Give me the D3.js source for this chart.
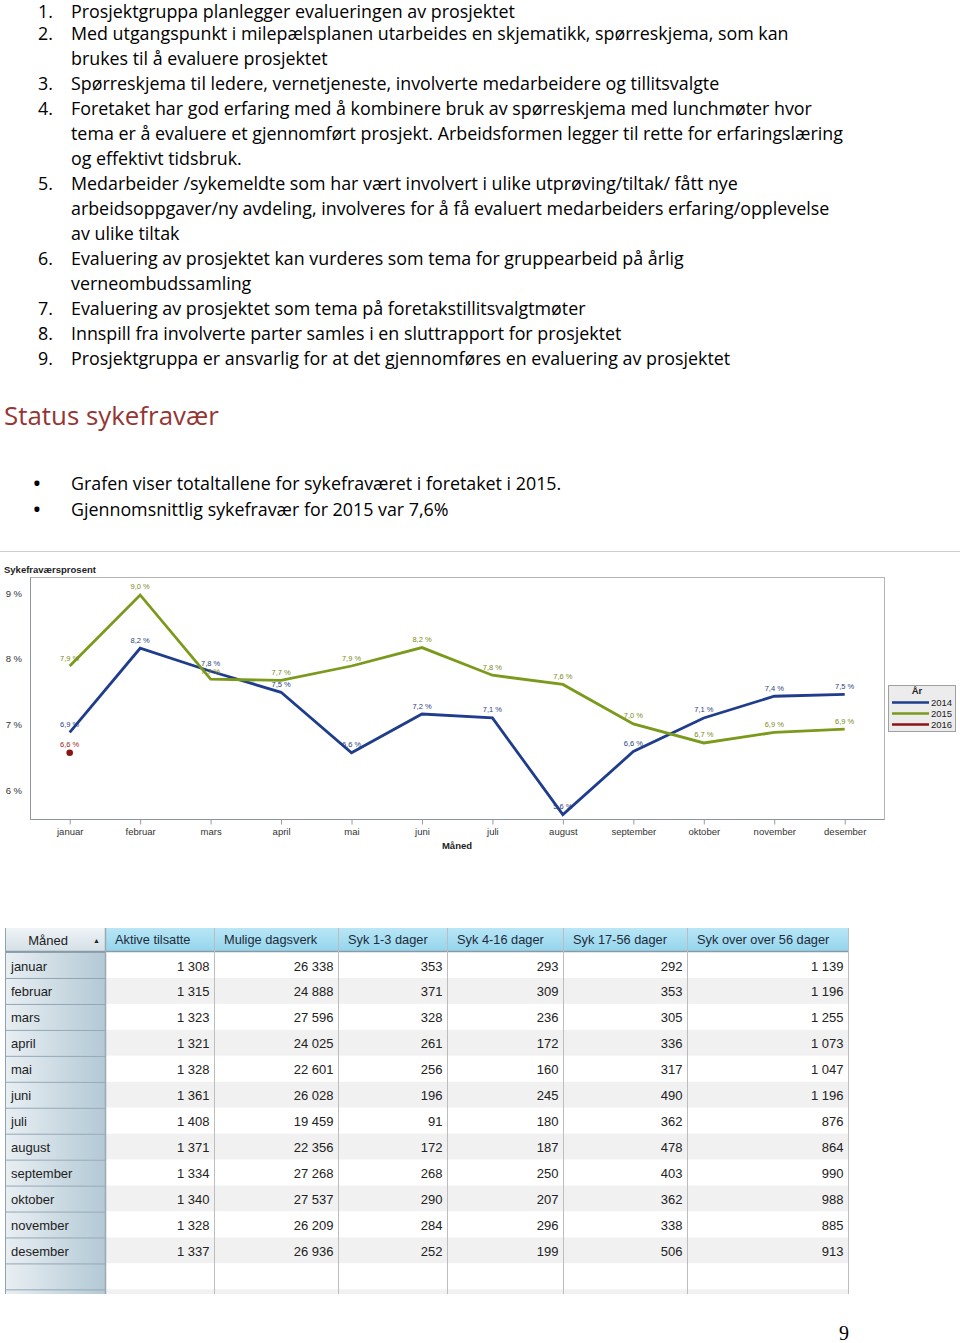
<!DOCTYPE html>
<html><head><meta charset="utf-8">
<script src="https://cdn.jsdelivr.net/npm/d3@7"></script>
<style>
html,body{margin:0;padding:0;background:#fff;}
svg{display:block;}
</style></head>
<body>
<script>
// ---------- DATA ----------
const months = ["januar","februar","mars","april","mai","juni","juli","august","september","oktober","november","desember"];
const years = ["2014","2015","2016"];
const pct2014 = [6.88, 8.16, 7.81, 7.49, 6.57, 7.16, 7.10, 5.63, 6.59, 7.10, 7.43, 7.46];
const pct2015 = [7.89, 8.97, 7.69, 7.67, 7.89, 8.17, 7.75, 7.61, 7.01, 6.72, 6.88, 6.93];
const pct2016 = [6.57];
const yTicks = [6, 7, 8, 9];

const tableHeaders = ["Aktive tilsatte","Mulige dagsverk","Syk 1-3 dager","Syk 4-16 dager","Syk 17-56 dager","Syk over over 56 dager"];
const aktive   = [1308,1315,1323,1321,1328,1361,1408,1371,1334,1340,1328,1337];
const mulige   = [26338,24888,27596,24025,22601,26028,19459,22356,27268,27537,26209,26936];
const syk1_3   = [353,371,328,261,256,196,91,172,268,290,284,252];
const syk4_16  = [293,309,236,172,160,245,180,187,250,207,296,199];
const syk17_56 = [292,353,305,336,317,490,362,478,403,362,338,506];
const syk56    = [1139,1196,1255,1073,1047,1196,876,864,990,988,885,913];

const listItems = [
  ["1.", ["Prosjektgruppa planlegger evalueringen av prosjektet"]],
  ["2.", ["Med utgangspunkt i milepælsplanen utarbeides en skjematikk, spørreskjema, som kan","brukes til å evaluere prosjektet"]],
  ["3.", ["Spørreskjema til ledere, vernetjeneste, involverte medarbeidere og tillitsvalgte"]],
  ["4.", ["Foretaket har god erfaring med å kombinere bruk av spørreskjema med lunchmøter hvor","tema er å evaluere et gjennomført prosjekt. Arbeidsformen legger til rette for erfaringslæring","og effektivt tidsbruk."]],
  ["5.", ["Medarbeider /sykemeldte som har vært involvert i ulike utprøving/tiltak/ fått nye","arbeidsoppgaver/ny avdeling, involveres for å få evaluert medarbeiders erfaring/opplevelse","av ulike tiltak"]],
  ["6.", ["Evaluering av prosjektet kan vurderes som tema for gruppearbeid på årlig","verneombudssamling"]],
  ["7.", ["Evaluering av prosjektet som tema på foretakstillitsvalgtmøter"]],
  ["8.", ["Innspill fra involverte parter samles i en sluttrapport for prosjektet"]],
  ["9.", ["Prosjektgruppa er ansvarlig for at det gjennomføres en evaluering av prosjektet"]]
];
const heading = "Status sykefravær";
const bullets = ["Grafen viser totaltallene for sykefraværet i foretaket i 2015.","Gjennomsnittlig sykefravær for 2015 var 7,6%"];

// ---------- PAGE ----------
const W = 960, H = 1343;
const svg = d3.select("body").append("svg").attr("width", W).attr("height", H);

const bodyFont = "'Open Sans', sans-serif";
const chartFont = "'Liberation Sans', Arial, sans-serif";

function fitSize(txt, family, target, weight) {
  const t = svg.append("text").attr("font-family", family).attr("font-size", 20)
    .attr("font-weight", weight || "normal").text(txt);
  const w = t.node().getComputedTextLength();
  t.remove();
  return 20 * target / w;
}
const bodySize = fitSize(listItems[1][1][0], bodyFont, 718);

const doc = svg.append("g").attr("fill", "#000").attr("font-family", bodyFont).attr("font-size", bodySize);
let lineIdx = 0;
const baseOf = k => (k === 0 ? 17.5 : 15 + k * 25);
listItems.forEach(([num, lines]) => {
  doc.append("text").attr("x", 38).attr("y", baseOf(lineIdx)).text(num);
  lines.forEach((l, j) => {
    doc.append("text").attr("x", 71).attr("y", baseOf(lineIdx + j)).text(l);
  });
  lineIdx += lines.length;
});

const headSize = fitSize(heading, bodyFont, 215);
svg.append("text").attr("x", 4).attr("y", 425).attr("font-family", bodyFont)
  .attr("font-size", headSize).attr("fill", "#943634").text(heading);

bullets.forEach((b, i) => {
  const y = 490 + i * 25.5;
  svg.append("text").attr("x", 37).attr("y", y).attr("text-anchor", "middle")
    .attr("font-family", bodyFont).attr("font-size", 18).attr("font-weight", "bold").text("•");
  svg.append("text").attr("x", 71).attr("y", y).attr("font-family", bodyFont).attr("font-size", bodySize).text(b);
});

svg.append("line").attr("x1", 0).attr("x2", 960).attr("y1", 551.5).attr("y2", 551.5)
  .attr("stroke", "#cfcfcf").attr("stroke-width", 1);

// ---------- CHART ----------
const frame = {l: 30, t: 577, r: 884, b: 819};
const x = d3.scalePoint().domain(months).range([69.7, 844.7]);
const y = d3.scaleLinear().domain([6, 9]).range([790.3, 593]);
const colors = {"2014": "#1f3d8c", "2015": "#7b9a1c", "2016": "#8b1414"};
const labelColors = {"2014": "#2b3f80", "2015": "#7c8a22", "2016": "#9a2020"};
const fmt = v => d3.format(".1f")(v).replace(".", ",") + " %";

const chart = svg.append("g").attr("font-family", chartFont);

chart.append("text").attr("x", 4).attr("y", 573).attr("font-size", 9.5).attr("font-weight", "bold")
  .attr("fill", "#222").text("Sykefraværsprosent");

chart.append("rect").attr("x", frame.l + 0.5).attr("y", frame.t + 0.5)
  .attr("width", frame.r - frame.l).attr("height", frame.b - frame.t)
  .attr("fill", "#fff").attr("stroke", "#b4b4b4");
chart.append("path").attr("d", `M${frame.l + 0.5},${frame.t + 0.5}V${frame.b + 0.5}H${frame.r + 0.5}`)
  .attr("fill", "none").attr("stroke", "#8f94a3");

const xAxis = chart.append("g").attr("transform", `translate(0,${frame.b + 0.5})`)
  .call(d3.axisBottom(x).tickSize(5).tickPadding(3.5));
xAxis.select(".domain").remove();
xAxis.selectAll(".tick line").attr("stroke", "#999");
xAxis.selectAll(".tick text").attr("font-size", 9.5).attr("font-family", chartFont).attr("fill", "#333");

const yAxis = chart.append("g").attr("transform", `translate(${frame.l},0)`)
  .call(d3.axisLeft(y).tickValues(yTicks).tickSize(0).tickPadding(8).tickFormat(d => d + " %"));
yAxis.select(".domain").remove();
yAxis.selectAll(".tick text").attr("font-size", 9.5).attr("font-family", chartFont).attr("fill", "#333");

chart.append("text").attr("x", 457).attr("y", 849).attr("text-anchor", "middle")
  .attr("font-size", 9.5).attr("font-weight", "bold").attr("fill", "#222").text("Måned");

const series = [
  {year: "2014", values: pct2014},
  {year: "2015", values: pct2015},
  {year: "2016", values: pct2016}
];
const line = d3.line().x((d, i) => x(months[i])).y(d => y(d));
series.forEach(s => {
  if (s.values.length > 1) {
    chart.append("path").datum(s.values).attr("d", line).attr("fill", "none")
      .attr("stroke", colors[s.year]).attr("stroke-width", 2.8).attr("stroke-linejoin", "miter");
  } else {
    chart.selectAll(null).data(s.values).join("circle")
      .attr("cx", (d, i) => x(months[i])).attr("cy", d => y(d)).attr("r", 3.3)
      .attr("fill", colors[s.year]);
  }
});
series.forEach(s => {
  chart.selectAll(null).data(s.values).join("text")
    .attr("x", (d, i) => x(months[i])).attr("y", d => y(d) - 5.5)
    .attr("text-anchor", "middle").attr("font-size", 7.5)
    .attr("fill", labelColors[s.year]).text(d => fmt(d));
});

// legend
const lg = chart.append("g");
lg.append("rect").attr("x", 888.5).attr("y", 685.5).attr("width", 67).attr("height", 46)
  .attr("fill", "#ececec").attr("stroke", "#a0a0a0");
lg.append("text").attr("x", 917).attr("y", 694).attr("text-anchor", "middle").attr("font-size", 9.5)
  .attr("font-weight", "bold").attr("fill", "#222").text("År");
years.forEach((yr, i) => {
  const yy = 702.5 + i * 11;
  lg.append("line").attr("x1", 892).attr("x2", 929).attr("y1", yy).attr("y2", yy)
    .attr("stroke", colors[yr]).attr("stroke-width", 2.6);
  lg.append("text").attr("x", 931).attr("y", yy + 3.5).attr("font-size", 9.5).attr("fill", "#222").text(yr);
});

// ---------- TABLE ----------
const numFmt = d3.formatLocale({decimal: ",", thousands: " ", grouping: [3], currency: ["", ""]}).format(",d");
const colEdges = [5, 105, 214, 338, 447, 563, 687, 848];
const tblTop = 928, hdrBot = 952, rowH = 25.95, tblBot = 1294;
const colData = [aktive, mulige, syk1_3, syk4_16, syk17_56, syk56];

const defs = svg.append("defs");
const gHdr = defs.append("linearGradient").attr("id", "gHdr").attr("x1", 0).attr("x2", 0).attr("y1", 0).attr("y2", 1);
gHdr.append("stop").attr("offset", 0).attr("stop-color", "#b9e6f6");
gHdr.append("stop").attr("offset", 1).attr("stop-color", "#94d4ec");
const gCorner = defs.append("linearGradient").attr("id", "gCorner").attr("x1", 0).attr("x2", 0).attr("y1", 0).attr("y2", 1);
gCorner.append("stop").attr("offset", 0).attr("stop-color", "#eef3f6");
gCorner.append("stop").attr("offset", 1).attr("stop-color", "#d3dfe6");
const gRow = defs.append("linearGradient").attr("id", "gRow").attr("x1", 0).attr("x2", 1).attr("y1", 0).attr("y2", 0);
gRow.append("stop").attr("offset", 0).attr("stop-color", "#e9eff3");
gRow.append("stop").attr("offset", 1).attr("stop-color", "#b3c9d5");

const tbl = svg.append("g").attr("font-family", chartFont);
const nRows = Math.ceil((tblBot - hdrBot) / rowH);
d3.range(nRows).forEach(i => {
  const top = hdrBot + i * rowH;
  const h = Math.min(rowH, tblBot - top);
  tbl.append("rect").attr("x", colEdges[1]).attr("y", top).attr("width", colEdges[7] - colEdges[1])
    .attr("height", h).attr("fill", i % 2 === 0 ? "#ffffff" : "#f1f1f1");
  tbl.append("rect").attr("x", colEdges[0]).attr("y", top).attr("width", colEdges[1] - colEdges[0])
    .attr("height", h).attr("fill", "url(#gRow)");
  tbl.append("line").attr("x1", colEdges[0]).attr("x2", colEdges[1]).attr("y1", top + 0.5).attr("y2", top + 0.5)
    .attr("stroke", "#8fa4b2");
});
tbl.append("rect").attr("x", colEdges[0]).attr("y", tblTop).attr("width", colEdges[1] - colEdges[0])
  .attr("height", hdrBot - tblTop).attr("fill", "url(#gCorner)");
tbl.append("rect").attr("x", colEdges[1]).attr("y", tblTop).attr("width", colEdges[7] - colEdges[1])
  .attr("height", hdrBot - tblTop).attr("fill", "url(#gHdr)");
tbl.append("line").attr("x1", colEdges[0]).attr("x2", colEdges[7]).attr("y1", hdrBot - 0.5).attr("y2", hdrBot - 0.5)
  .attr("stroke", "#8c9aa3").attr("stroke-width", 1.5);
colEdges.forEach((cx, i) => {
  tbl.append("line").attr("x1", cx + 0.5).attr("x2", cx + 0.5).attr("y1", tblTop).attr("y2", tblBot)
    .attr("stroke", i === 0 ? "#8fa4b2" : (i === 1 ? "#9aa9b3" : "#bdbdbd")).attr("stroke-width", i === 1 ? 1.5 : 1);
});
tbl.append("text").attr("x", 48).attr("y", 944.5).attr("text-anchor", "middle").attr("font-size", 13)
  .attr("fill", "#222").text("Måned");
tbl.append("text").attr("x", 96.5).attr("y", 943).attr("text-anchor", "middle").attr("font-size", 7)
  .attr("fill", "#222").text("▲");
tableHeaders.forEach((h, j) => {
  tbl.append("text").attr("x", colEdges[j + 1] + 10).attr("y", 943.5).attr("font-size", 12.8)
    .attr("fill", "#1d2c3a").text(h);
});
months.forEach((m, i) => {
  const base = hdrBot + i * rowH + 18.5;
  tbl.append("text").attr("x", 11).attr("y", base).attr("font-size", 13).attr("fill", "#222").text(m);
  colData.forEach((col, j) => {
    tbl.append("text").attr("x", colEdges[j + 2] - 4.5).attr("y", base).attr("text-anchor", "end")
      .attr("font-size", 13).attr("fill", "#222").text(numFmt(col[i]));
  });
});

svg.append("text").attr("x", 844).attr("y", 1340).attr("text-anchor", "middle")
  .attr("font-family", "'Liberation Serif', serif").attr("font-size", 20).text("9");
</script>
</body></html>
